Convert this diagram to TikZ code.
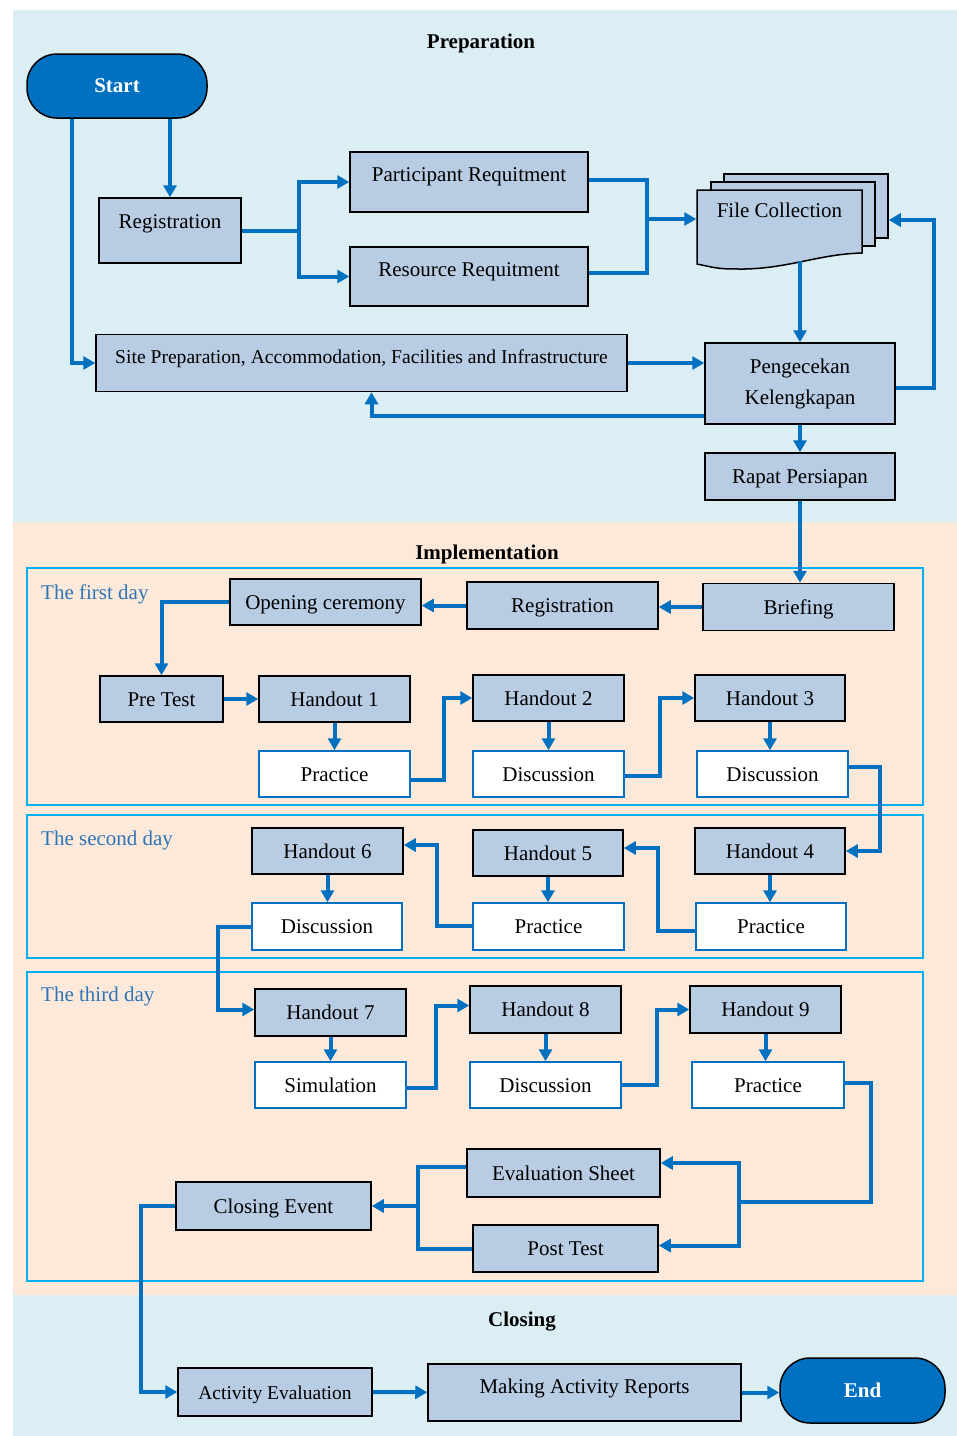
\documentclass[tikz,border=0pt]{standalone}
\usepackage{fontspec}
\setmainfont{Liberation Serif}
\usetikzlibrary{arrows.meta}
\definecolor{prepbg}{RGB}{219,238,244}
\definecolor{implbg}{RGB}{253,233,218}
\definecolor{boxblue}{RGB}{184,204,228}
\definecolor{flowblue}{RGB}{0,112,192}
\definecolor{dayline}{RGB}{0,176,240}
\definecolor{daytext}{RGB}{46,117,182}
\newcommand{\fsize}{\fontsize{21}{25}\selectfont}
\newcommand{\drawdown}[2]
{
  \draw [flow] (#1.south) -- (#1.south |- #2.north);
}
\tikzset{
  flowbox/.style={draw=black, line width=1.5pt, fill=boxblue, font=\fsize},
  handout/.style={flowbox, text height=19pt, text depth=5pt, minimum width=151pt, minimum height=46pt},
  activity/.style={handout, fill=white, draw=flowblue},
  uptext/.style={text depth=#1},
  terminal/.style={draw=black, line width=1.5pt, fill=flowblue, text=white, font=\fsize\bfseries, rounded corners=30pt},
  title/.style={font=\fsize\bfseries},
  daylabel/.style={font=\fsize, text=daytext, anchor=west, inner sep=0pt},
  dayframe/.style={draw=dayline, line width=2pt},
  flow/.style={draw=flowblue, line width=4pt, -{Triangle[length=12pt,width=13pt]}},
  link/.style={draw=flowblue, line width=4pt}
}

\begin{document}
\begin{tikzpicture}[x=1pt,y=-1pt]
    \useasboundingbox (0,0) rectangle (957,1436);
    % the three stages
    \fill[prepbg] (13,10) rectangle (957,522);
    \fill[implbg] (13,522) rectangle (957,1295);
    \fill[prepbg] (13,1295) rectangle (957,1436);
    \draw[dayframe] (27,568) rectangle (923,805);
    \draw[dayframe] (27,815) rectangle (923,958);
    \draw[dayframe] (27,972) rectangle (923,1281);

    \node[title] (tprep) at (481,43) {Preparation};
    \node[title] (timpl) at (487,554) {Implementation};
    \node[title] (tclose) at (522,1322) {Closing};
    \node[daylabel] (day1) at (41,594) {The first day};
    \node[daylabel] (day2) at (41,840) {The second day};
    \node[daylabel] (day3) at (41,996) {The third day};

    % preparation
    \node[terminal, minimum width=180pt, minimum height=64pt] (start) at (117,86) {Start};
    \node[handout, minimum width=142pt, minimum height=65pt, uptext=23pt] (reg) at (170,230.5) {Registration};
    \node[handout, minimum width=238pt, minimum height=60pt, uptext=21pt] (part) at (469,182) {Participant Requitment};
    \node[handout, minimum width=238pt, minimum height=59pt, uptext=19pt] (res) at (469,276.5) {Resource Requitment};
    \node[handout, minimum width=531pt, minimum height=57pt, uptext=19pt, font=\fontsize{19.6}{23}\selectfont] (site) at (361.5,363)
      {Site Preparation, Accommodation, Facilities and Infrastructure};

    % stack of files (drawn by hand)
    \filldraw[fill=boxblue, draw=black, line width=1.5pt] (724,174) rectangle (888,238);
    \filldraw[fill=boxblue, draw=black, line width=1.5pt] (711,182) rectangle (875,246);
    \filldraw[fill=boxblue, draw=black, line width=1.5pt] (697,190) -- (862,190) -- (862,253)
      .. controls (820,254) and (790,268) .. (745,269) .. controls (720,269) .. (697,264) -- cycle;
    \node[flowbox, draw=none, fill=none, minimum width=165pt, minimum height=70pt, text height=19pt, uptext=35pt] (file) at (779.5,225) {File Collection};

    \node[flowbox, align=center, minimum width=190pt, minimum height=81pt, font=\fontsize{21}{31}\selectfont] (peng) at (800,383.5) {Pengecekan\\Kelengkapan};
    \node[handout, minimum width=190pt, minimum height=47pt] (rapat) at (800,476.5) {Rapat Persiapan};

    \draw[flow] (reg.north |- start.south) -- (reg.north);
    \draw[flow] ([xshift=-45pt]start.south) |- (site.west);
    \draw[link] (reg.east) -- ++(57,0) coordinate (regsplit);
    \draw[flow] (regsplit) |- (part.west);
    \draw[flow] (regsplit) |- (res.west);
    \coordinate (fjoin) at (647,219);
    \draw[link] ([yshift=2pt]part.east) -| (fjoin);
    \draw[link] ([yshift=4pt]res.east) -| (fjoin);
    \draw[flow] (fjoin) -- (fjoin -| file.west);
    \draw[flow] (file.south -| peng.north) -- (peng.north);
    \draw[flow] (site.east) -- (site.east -| peng.west);
    \draw[flow] ([yshift=-32pt]peng.west) -| ([xshift=10pt]site.south);
    \draw[flow] ([yshift=-4pt]peng.east) -- ++(38,0) |- ([shift={(26,-5)}]file.east);
    \drawdown{peng}{rapat}

    % implementation, the first day
    \node[handout, minimum width=191pt] (open) at (325.5,602) {Opening ceremony};
    \node[handout, minimum width=191pt, minimum height=47pt] (reg2) at (562.5,605.5) {Registration};
    \node[handout, minimum width=191pt, minimum height=47pt] (brief) at (798.5,607) {Briefing};
    \node[handout, minimum width=123pt] (pretest) at (161.5,699) {Pre Test};
    \node[handout] (h1) at (334.5,699) {Handout 1};
    \node[activity] (prac1) at (334.5,774) {Practice};
    \node[handout] (h2) at (548.5,698) {Handout 2};
    \node[activity] (disc2) at (548.5,774) {Discussion};
    \node[handout, minimum width=150pt] (h3) at (770,698) {Handout 3};
    \node[activity] (disc3) at (772.5,774) {Discussion};

    \drawdown{rapat}{brief}
    \draw[flow] (brief.west) -- (reg2.east |- brief.west);
    \draw[flow] (reg2.west) -- (reg2.west -| open.east);
    \draw[flow] (open.west) -| (pretest.north);
    \draw[flow] (pretest) -- (h1);
    \drawdown{h1}{prac1}
    \draw[flow] ([yshift=-6pt]prac1.east) -- ++(33,0) |- (h2.west);
    \drawdown{h2}{disc2}
    \draw[flow] ([yshift=-2pt]disc2.east) -- ++(35,0) |- (h3.west);
    \drawdown{h3}{disc3}

    % the second day
    \node[handout, minimum width=150pt] (h4) at (770,851) {Handout 4};
    \node[activity, minimum width=150pt, minimum height=47pt] (prac4) at (771,926.5) {Practice};
    \node[handout, minimum width=150pt] (h5) at (548,853) {Handout 5};
    \node[activity, minimum height=47pt] (prac5) at (548.5,926.5) {Practice};
    \node[handout] (h6) at (327.5,851) {Handout 6};
    \node[activity, minimum width=150pt, minimum height=47pt] (disc6) at (327,926.5) {Discussion};

    \draw[flow] ([yshift=7pt]disc3.east) -- ++(31,0) |- (h4.east);
    \drawdown{h4}{prac4}
    \draw[flow] ([yshift=-4pt]prac4.west) -- ++(-37,0) |- ([yshift=5pt]h5.east);
    \drawdown{h5}{prac5}
    \draw[flow] ([yshift=1pt]prac5.west) -- ++(-35,0) |- ([yshift=6pt]h6.east);
    \drawdown{h6}{disc6}

    % the third day
    \node[handout, minimum height=47pt] (h7) at (330.5,1012.5) {Handout 7};
    \node[activity] (sim) at (330.5,1085) {Simulation};
    \node[handout, minimum height=47pt] (h8) at (545.5,1009.5) {Handout 8};
    \node[activity] (disc8) at (545.5,1085) {Discussion};
    \node[handout, minimum height=47pt] (h9) at (765.5,1009.5) {Handout 9};
    \node[activity, minimum width=152pt] (prac9) at (768,1085) {Practice};
    \node[handout, minimum width=193pt, minimum height=48pt] (eval) at (563.5,1173) {Evaluation Sheet};
    \node[handout, minimum width=185pt, minimum height=47pt] (post) at (565.5,1248.5) {Post Test};
    \node[handout, minimum width=195pt, minimum height=48pt] (close) at (273.5,1206) {Closing Event};

    \draw[flow] (disc6.west) -- ++(-33,0) |- ([yshift=3pt]h7.west);
    \drawdown{h7}{sim}
    \draw[flow] ([yshift=-3pt]sim.east) -- ++(29,0) |- ([yshift=4pt]h8.west);
    \drawdown{h8}{disc8}
    \draw[flow] (disc8.east) -- ++(35,0) |- (h9.west);
    \drawdown{h9}{prac9}
    \coordinate (esplit) at (739,1202);
    \draw[link] ([yshift=2pt]prac9.east) -- ++(26,0) |- (esplit);
    \draw[flow] (esplit) |- ([yshift=10pt]eval.east);
    \draw[flow] (esplit) |- ([yshift=3pt]post.east);
    \coordinate (cjoin) at ([xshift=46pt]close.east);
    \draw[link] ([yshift=6pt]eval.west) -| (cjoin);
    \draw[link] (post.west) -| (cjoin);
    \draw[flow] (cjoin) -- (close.east);

    % closing
    \node[handout, minimum width=194pt, minimum height=48pt, font=\fontsize{19.5}{23}\selectfont] (acteval) at (275,1392) {Activity Evaluation};
    \node[handout, minimum width=313pt, minimum height=57pt, uptext=17pt] (report) at (584.5,1392.5) {Making Activity Reports};
    \node[terminal, minimum width=165pt, minimum height=65pt] (end) at (862.5,1390.5) {End};

    \draw[flow] (close.west) -- ++(-34,0) |- (acteval.west);
    \draw[flow] (acteval) -- (report);
    \draw[flow] (report.east) -- (report.east -| end.west);
\end{tikzpicture}
\end{document}
